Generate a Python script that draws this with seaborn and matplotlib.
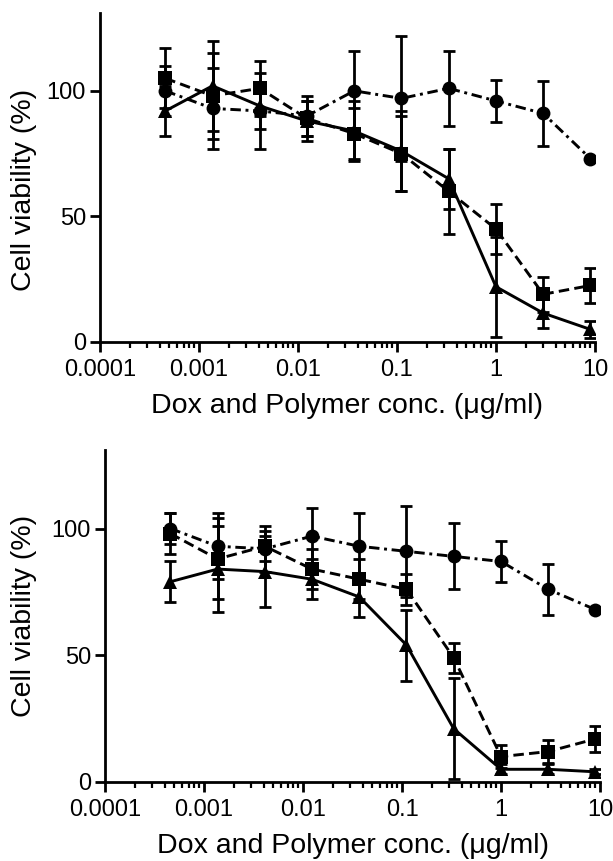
import numpy as np
import pandas as pd
import matplotlib
matplotlib.use("Agg")
import matplotlib.pyplot as plt
import matplotlib.ticker as mticker
import seaborn as sns

# concentrations (ug/ml)
conc = [0.000457, 0.00137, 0.00412, 0.0123, 0.037, 0.111, 0.333, 1.0, 3.0, 9.0]

# top panel
top_circle = [100, 93, 92, 90, 100, 97, 101, 96, 91, 73]
top_circle_err = [10, 16, 15, 8, 16, 25, 15, 8.5, 13, 0]
top_square = [105, 98, 101, 89, 83, 75, 60, 45, 19, 22.5]
top_square_err = [12, 17, 11, 7, 10, 15, 17, 10, 7, 7]
top_triangle = [92, 102, 94, 88, 84, 76, 65, 22, 11.5, 5]
top_triangle_err = [10, 18, 9, 8, 12, 16, 12, 20, 6, 3.5]

# bottom panel
bot_circle = [100, 93, 92, 97, 93, 91, 89, 87, 76, 68]
bot_circle_err = [6, 13, 9, 11, 13, 18, 13, 8, 10, 0]
bot_square = [98, 88, 93, 84, 80, 76, 49, 10, 12, 17]
bot_square_err = [8, 16, 6, 8, 8, 6, 6, 4.5, 4.5, 5]
bot_triangle = [79, 84, 83, 80, 73, 54, 21, 5, 5, 4]
bot_triangle_err = [8, 17, 14, 8, 8, 14, 20, 2, 2, 1]

x_ticks = [0.0001, 0.001, 0.01, 0.1, 1, 10]
x_ticklabels = ["0.0001", "0.001", "0.01", "0.1", "1", "10"]
y_ticks = [0, 50, 100]
xlabel = "Dox and Polymer conc. (\u03bcg/ml)"
ylabel = "Cell viability (%)"

sns.set_theme(style="ticks")
plt.rcParams['font.family'] = ['Liberation Sans', 'DejaVu Sans']

fig = plt.figure(figsize=(6.13, 8.61), dpi=100)
ax1 = fig.add_axes([0.1631, 0.6028, 0.8075, 0.3821])
ax2 = fig.add_axes([0.1713, 0.0918, 0.8075, 0.3856])

styles = [
    ("circle", "o", (0, (3.6, 1.6, 1.0, 1.6))),
    ("square", "s", (0, (3.6, 1.8))),
    ("triangle", "^", "-"),
]

def draw(ax, series, ylab_xy):
    for (name, marker, ls), (vals, errs) in zip(styles, series):
        df = pd.DataFrame({"conc": conc, "val": vals})
        sns.lineplot(data=df, x="conc", y="val", ax=ax, color="black",
                     marker=marker, markersize=10, markeredgewidth=0,
                     linewidth=2.1, linestyle=ls, errorbar=None)
        ax.errorbar(conc, vals, yerr=errs, fmt="none", ecolor="black",
                    elinewidth=2, capsize=4.6, capthick=2)
    ax.set_xscale("log")
    ax.set_xlim(1e-4, 10)
    ax.set_ylim(0, 131)
    ax.xaxis.set_major_locator(mticker.FixedLocator(x_ticks))
    ax.xaxis.set_major_formatter(mticker.FixedFormatter(x_ticklabels))
    ax.xaxis.set_minor_locator(mticker.LogLocator(base=10, subs=np.arange(2, 10), numticks=20))
    ax.xaxis.set_minor_formatter(mticker.NullFormatter())
    ax.set_yticks(y_ticks)
    ax.set_xlabel(xlabel, fontsize=20.5, labelpad=9, color="black")
    ax.set_ylabel(ylabel, fontsize=20.5, color="black")
    ax.yaxis.set_label_coords(*ylab_xy)
    ax.tick_params(axis="both", which="major", direction="out", length=7, width=2,
                   labelsize=17, color="black", labelcolor="black")
    ax.tick_params(axis="x", which="major", pad=5)
    ax.tick_params(axis="y", which="major", pad=3)
    ax.tick_params(axis="x", which="minor", direction="out", length=4, width=1.6, color="black")
    for sp in ["top", "right"]:
        ax.spines[sp].set_visible(False)
    for sp in ["left", "bottom"]:
        ax.spines[sp].set_linewidth(2)
        ax.spines[sp].set_color("black")
    ax.set_facecolor("white")

draw(ax1, [(top_circle, top_circle_err), (top_square, top_square_err), (top_triangle, top_triangle_err)], (-0.127, 0.462))
draw(ax2, [(bot_circle, bot_circle_err), (bot_square, bot_square_err), (bot_triangle, bot_triangle_err)], (-0.137, 0.5))

fig.savefig("out.png", dpi=100, facecolor="white")
